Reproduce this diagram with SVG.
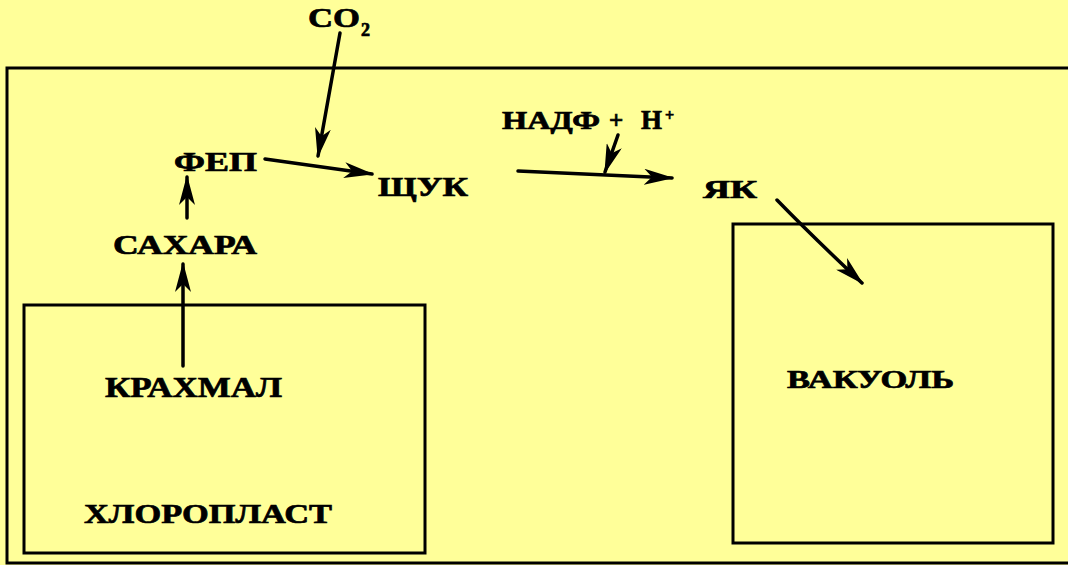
<svg xmlns="http://www.w3.org/2000/svg" width="1068" height="565" viewBox="0 0 1068 565">
  <style>
    .bg { fill: #FFFF99; }
    .box { fill: none; stroke: #000; stroke-width: 3; }
    .lbl { font-family: "Liberation Serif", "Times New Roman", serif; font-weight: bold; fill: #000; stroke: #000; stroke-width: 0.7; }
    .edge { fill: none; stroke: #000; stroke-width: 3.5; stroke-linecap: round; }
  </style>
  <defs>
    <marker id="head" markerUnits="userSpaceOnUse" markerWidth="30" markerHeight="16" refX="28" refY="8" orient="auto">
      <path d="M0,0 L30,8 L0,16 L8,8 z" fill="#000"/>
    </marker>
  </defs>

  <rect class="bg" x="0" y="0" width="1068" height="565"/>

  <!-- cell outline -->
  <g id="cell">
    <rect class="box" x="7" y="68" width="1075" height="495"/>
  </g>

  <!-- chloroplast -->
  <g id="chloroplast">
    <rect class="box" x="24" y="305" width="401" height="248"/>
    <text class="lbl" x="84" y="523" font-size="28" textLength="248" lengthAdjust="spacingAndGlyphs">ХЛОРОПЛАСТ</text>
  </g>

  <!-- vacuole -->
  <g id="vacuole">
    <rect class="box" x="733" y="224" width="320" height="319"/>
    <text class="lbl" x="787" y="388" font-size="25" textLength="167" lengthAdjust="spacingAndGlyphs">ВАКУОЛЬ</text>
  </g>

  <g id="starch">
    <text class="lbl" x="105" y="397" font-size="29" textLength="177" lengthAdjust="spacingAndGlyphs">КРАХМАЛ</text>
  </g>

  <g id="sugars">
    <text class="lbl" x="113" y="254" font-size="28" textLength="144" lengthAdjust="spacingAndGlyphs">САХАРА</text>
  </g>

  <g id="pep">
    <text class="lbl" x="174" y="171" font-size="28" textLength="83" lengthAdjust="spacingAndGlyphs">ФЕП</text>
  </g>

  <g id="co2">
    <text class="lbl" x="308" y="27" font-size="28" textLength="52" lengthAdjust="spacingAndGlyphs">CO</text>
    <text class="lbl" x="361" y="36" font-size="18">2</text>
  </g>

  <g id="oaa">
    <text class="lbl" x="378" y="196" font-size="28" textLength="90" lengthAdjust="spacingAndGlyphs">ЩУК</text>
  </g>

  <g id="nadph">
    <text class="lbl" x="502" y="129" font-size="25" textLength="98" lengthAdjust="spacingAndGlyphs">НАДФ</text>
    <text class="lbl" x="609" y="129" font-size="25">+</text>
    <text class="lbl" x="641" y="129" font-size="27">Н</text>
    <text class="lbl" x="665" y="121" font-size="16">+</text>
  </g>

  <g id="malate">
    <text class="lbl" x="703" y="198" font-size="25" textLength="54" lengthAdjust="spacingAndGlyphs">ЯК</text>
  </g>

  <!-- connectors -->
  <g id="connectors">
    <line class="edge" x1="340" y1="33" x2="318" y2="156" marker-end="url(#head)"/>
    <line class="edge" x1="265" y1="159" x2="372" y2="174" marker-end="url(#head)"/>
    <line class="edge" x1="187" y1="218" x2="187" y2="177" marker-end="url(#head)"/>
    <line class="edge" x1="183" y1="366" x2="183" y2="264" marker-end="url(#head)"/>
    <line class="edge" x1="518" y1="171" x2="672" y2="178" marker-end="url(#head)"/>
    <line class="edge" x1="618" y1="135" x2="605" y2="172" marker-end="url(#head)"/>
    <path class="edge" d="M777,200 Q812,236 862,283" marker-end="url(#head)"/>
  </g>
</svg>
